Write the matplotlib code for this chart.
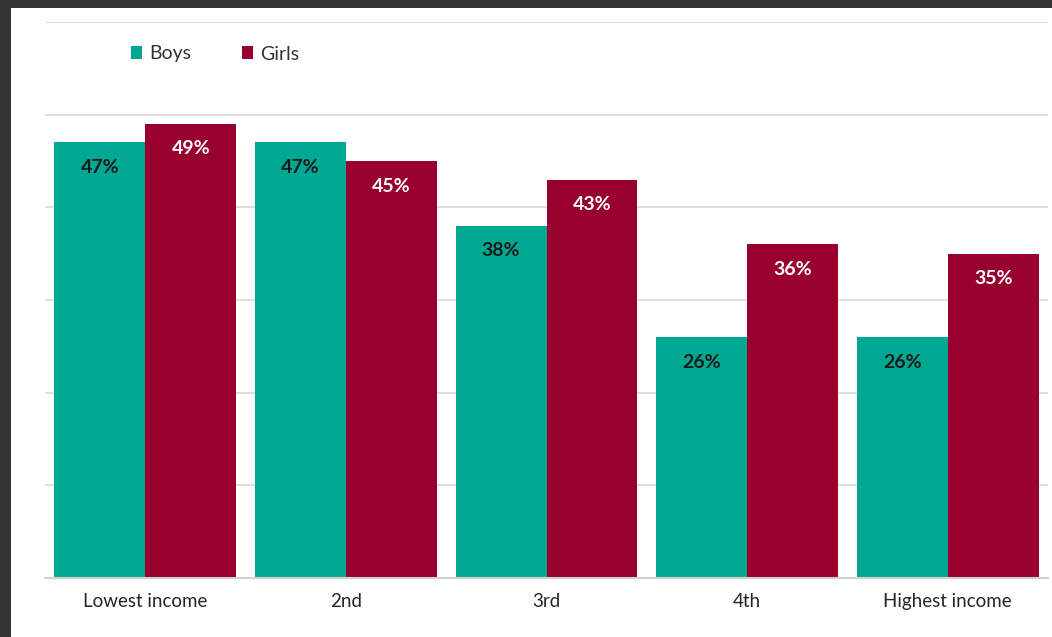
import numpy as np
import matplotlib.pyplot as plt
from matplotlib.patches import Rectangle

# data
categorias = ['Lowest income', '2nd', '3rd', '4th', 'Highest income']
boys = [0.47, 0.47, 0.38, 0.26, 0.26]
girls = [0.49, 0.45, 0.43, 0.36, 0.35]

COLOR_BOYS = '#00A893'
COLOR_GIRLS = '#98002E'

plt.rcParams['font.family'] = ['Lato', 'DejaVu Sans']

fig = plt.figure(figsize=(10.52, 6.37), dpi=100)
fig.patch.set_facecolor('#333333')
# panel blanco (marco oscuro arriba y a la izquierda)
fig.patches.append(Rectangle((11 / 1052, 0), 1 - 11 / 1052, 1 - 8 / 637,
                             transform=fig.transFigure, facecolor='white',
                             edgecolor='none', zorder=-10))

ax = fig.add_axes([45 / 1052, 59 / 637, 1003 / 1052, 556 / 637])
ax.set_facecolor('none')

x = np.arange(len(categorias))
w = 0.453
b1 = ax.bar(x - w / 2, boys, w, color=COLOR_BOYS, label='Boys', zorder=3)
b2 = ax.bar(x + w / 2, girls, w, color=COLOR_GIRLS, label='Girls', zorder=3)

for rect, v in zip(b1, boys):
    ax.text(rect.get_x() + rect.get_width() / 2, v - 0.027, f'{v*100:.0f}%',
            ha='center', va='center', fontsize=14, fontweight='bold',
            color='#1a1a1a', zorder=4)
for rect, v in zip(b2, girls):
    ax.text(rect.get_x() + rect.get_width() / 2, v - 0.027, f'{v*100:.0f}%',
            ha='center', va='center', fontsize=14, fontweight='bold',
            color='white', zorder=4)

ax.set_xlim(-0.5, len(categorias) - 0.5)
ax.set_ylim(0, 0.6)
ax.set_yticks(np.arange(0, 0.61, 0.1))
ax.set_yticklabels([])
ax.yaxis.grid(True, color='#d9d9d9', linewidth=1.2, zorder=0)
ax.set_xticks(x)
ax.set_xticklabels(categorias, fontsize=13.5, color='#262626')
ax.tick_params(axis='both', length=0, pad=11)
for s in ['top', 'right', 'left']:
    ax.spines[s].set_visible(False)
ax.spines['bottom'].set_color('#d0d0d0')
ax.spines['bottom'].set_linewidth(1.5)
ax.spines['bottom'].set_zorder(5)

ax.legend(loc='center left', bbox_to_anchor=(113 / 1052, 1 - 54 / 637),
          bbox_transform=fig.transFigure, ncol=2, frameon=False,
          fontsize=14, handlelength=0.6, handleheight=0.6,
          handletextpad=0.35, columnspacing=2.6, labelcolor='#333333')

fig.savefig('out.png', dpi=100, facecolor=fig.get_facecolor())
